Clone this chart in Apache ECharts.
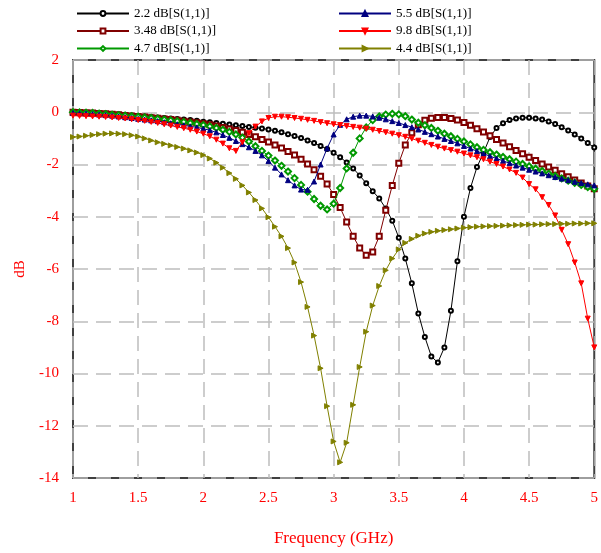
<!DOCTYPE html>
<html>
<head>
<meta charset="utf-8">
<script src="https://cdn.jsdelivr.net/npm/echarts@6/dist/echarts.min.js"></script>
<style>
html,body{margin:0;padding:0;background:#fff;}
#chart{width:601px;height:553px;}
</style>
</head>
<body>
<div id="chart"></div>
<script>
// Frequency (GHz) sample points
const freq = [1.00,1.05,1.10,1.15,1.20,1.25,1.30,1.35,1.40,1.45,1.50,1.55,1.60,1.65,1.70,1.75,1.80,1.85,1.90,1.95,
  2.00,2.05,2.10,2.15,2.20,2.25,2.30,2.35,2.40,2.45,2.50,2.55,2.60,2.65,2.70,2.75,2.80,2.85,2.90,2.95,
  3.00,3.05,3.10,3.15,3.20,3.25,3.30,3.35,3.40,3.45,3.50,3.55,3.60,3.65,3.70,3.75,3.80,3.85,3.90,3.95,
  4.00,4.05,4.10,4.15,4.20,4.25,4.30,4.35,4.40,4.45,4.50,4.55,4.60,4.65,4.70,4.75,4.80,4.85,4.90,4.95,5.00];

const s22 = [0.00,-0.01,-0.02,-0.03,-0.04,-0.05,-0.07,-0.08,-0.10,-0.12,-0.14,-0.16,-0.18,-0.20,-0.22,-0.24,-0.26,-0.28,-0.30,-0.33,
  -0.36,-0.38,-0.41,-0.44,-0.47,-0.50,-0.53,-0.56,-0.59,-0.62,-0.66,-0.71,-0.77,-0.84,-0.91,-0.99,-1.08,-1.18,-1.29,-1.41,
  -1.55,-1.72,-1.92,-2.15,-2.42,-2.72,-3.02,-3.30,-3.68,-4.15,-4.80,-5.60,-6.55,-7.70,-8.60,-9.35,-9.58,-9.00,-7.60,-5.70,
  -4.00,-2.90,-2.10,-1.55,-0.95,-0.60,-0.42,-0.30,-0.24,-0.21,-0.21,-0.24,-0.28,-0.35,-0.45,-0.57,-0.70,-0.85,-1.00,-1.18,-1.35];

const s348 = [0.00,-0.01,-0.02,-0.03,-0.05,-0.06,-0.08,-0.10,-0.12,-0.14,-0.16,-0.18,-0.21,-0.23,-0.26,-0.28,-0.31,-0.34,-0.37,-0.40,
  -0.44,-0.48,-0.53,-0.58,-0.64,-0.70,-0.77,-0.85,-0.94,-1.04,-1.14,-1.25,-1.37,-1.50,-1.64,-1.80,-1.98,-2.20,-2.45,-2.75,
  -3.15,-3.65,-4.20,-4.75,-5.20,-5.47,-5.35,-4.75,-3.75,-2.80,-1.95,-1.25,-0.78,-0.48,-0.31,-0.23,-0.20,-0.20,-0.24,-0.30,
  -0.39,-0.50,-0.63,-0.76,-0.90,-1.04,-1.18,-1.32,-1.46,-1.59,-1.72,-1.85,-1.98,-2.10,-2.22,-2.35,-2.47,-2.59,-2.71,-2.82,-2.93];

const s47 = [0.00,-0.01,-0.02,-0.03,-0.05,-0.07,-0.09,-0.11,-0.13,-0.15,-0.17,-0.20,-0.22,-0.25,-0.28,-0.31,-0.34,-0.37,-0.41,-0.45,
  -0.49,-0.54,-0.60,-0.67,-0.75,-0.85,-0.97,-1.12,-1.30,-1.48,-1.66,-1.85,-2.05,-2.27,-2.52,-2.78,-3.04,-3.32,-3.58,-3.72,
  -3.50,-2.90,-2.15,-1.55,-1.00,-0.58,-0.30,-0.16,-0.09,-0.06,-0.08,-0.15,-0.28,-0.40,-0.50,-0.60,-0.71,-0.82,-0.92,-1.02,
  -1.12,-1.23,-1.34,-1.44,-1.53,-1.62,-1.71,-1.80,-1.89,-1.98,-2.07,-2.16,-2.25,-2.35,-2.44,-2.53,-2.62,-2.70,-2.78,-2.86,-2.93];

const s55 = [-0.03,-0.04,-0.05,-0.07,-0.09,-0.11,-0.13,-0.16,-0.19,-0.22,-0.25,-0.28,-0.31,-0.34,-0.38,-0.42,-0.46,-0.50,-0.54,-0.58,
  -0.63,-0.69,-0.77,-0.87,-0.98,-1.10,-1.22,-1.34,-1.48,-1.65,-1.87,-2.12,-2.38,-2.60,-2.80,-2.96,-2.97,-2.65,-2.00,-1.38,
  -0.85,-0.48,-0.27,-0.17,-0.13,-0.13,-0.16,-0.21,-0.27,-0.34,-0.41,-0.49,-0.57,-0.66,-0.75,-0.84,-0.93,-1.02,-1.10,-1.19,
  -1.29,-1.39,-1.49,-1.59,-1.68,-1.77,-1.86,-1.95,-2.04,-2.12,-2.20,-2.27,-2.34,-2.41,-2.48,-2.54,-2.60,-2.66,-2.71,-2.76,-2.80];

const s98 = [-0.13,-0.14,-0.15,-0.16,-0.17,-0.18,-0.20,-0.22,-0.24,-0.27,-0.30,-0.33,-0.37,-0.41,-0.46,-0.51,-0.56,-0.61,-0.67,-0.74,
  -0.82,-0.92,-1.05,-1.20,-1.38,-1.48,-1.15,-0.80,-0.55,-0.35,-0.22,-0.17,-0.17,-0.19,-0.22,-0.25,-0.29,-0.33,-0.38,-0.42,
  -0.46,-0.49,-0.53,-0.56,-0.59,-0.63,-0.67,-0.72,-0.77,-0.82,-0.88,-0.94,-1.01,-1.09,-1.17,-1.25,-1.32,-1.39,-1.45,-1.51,
  -1.58,-1.65,-1.72,-1.80,-1.89,-1.98,-2.08,-2.19,-2.32,-2.50,-2.75,-2.95,-3.25,-3.55,-3.95,-4.50,-5.05,-5.75,-6.55,-7.90,-9.00];

const s44 = [-0.95,-0.93,-0.90,-0.87,-0.84,-0.82,-0.81,-0.82,-0.84,-0.88,-0.93,-1.00,-1.08,-1.15,-1.21,-1.27,-1.33,-1.39,-1.46,-1.54,
  -1.64,-1.77,-1.93,-2.12,-2.33,-2.55,-2.80,-3.07,-3.36,-3.68,-4.02,-4.38,-4.75,-5.20,-5.75,-6.50,-7.45,-8.55,-9.80,-11.25,
  -12.60,-13.40,-12.65,-11.20,-9.75,-8.40,-7.40,-6.65,-6.05,-5.60,-5.25,-5.00,-4.85,-4.73,-4.64,-4.58,-4.54,-4.51,-4.48,-4.45,
  -4.42,-4.40,-4.38,-4.37,-4.36,-4.35,-4.34,-4.33,-4.32,-4.31,-4.30,-4.30,-4.29,-4.28,-4.28,-4.27,-4.27,-4.26,-4.26,-4.25,-4.25];

const names = ['2.2 dB[S(1,1)]','3.48 dB[S(1,1)]','4.7 dB[S(1,1)]','5.5 dB[S(1,1)]','9.8 dB[S(1,1)]','4.4 dB[S(1,1)]'];
const values = [s22, s348, s47, s55, s98, s44];
const colors = ['#000000','#800000','#009900','#000080','#ff0000','#808000'];
const symbols = ['emptyCircle','emptyRect','emptyDiamond','triangle','triangle','triangle'];
const rotates = [0,0,0,0,180,-90];
const sizes = [4,5,6,5,5,5];

const FONT = '"Liberation Serif", "DejaVu Serif", serif';

const chart = echarts.init(document.getElementById('chart'), null, {renderer:'canvas'});

const series = names.map((n,i)=>({
  name:n, type:'line',
  data: freq.map((f,k)=>[f, values[i][k]]),
  symbol: symbols[i], symbolSize: sizes[i], symbolRotate: rotates[i],
  showAllSymbol: true,
  lineStyle:{color:colors[i], width:1},
  itemStyle:{color:colors[i], borderColor:colors[i], borderWidth:1},
  emphasis:{disabled:true},
  z: 2 + i
}));

const legendText = {color:'#000', fontFamily:FONT, fontSize:13, lineHeight:15};

chart.setOption({
  animation:false,
  backgroundColor:'#fff',
  legend:[
    {data:names.slice(0,3), orient:'vertical', left:71, top:1, itemWidth:52, itemHeight:6, itemGap:2.5,
     textStyle:legendText, selectedMode:false},
    {data:names.slice(3,6), orient:'vertical', left:333, top:1, itemWidth:52, itemHeight:6, itemGap:2.5,
     textStyle:legendText, selectedMode:false}
  ],
  grid:{left:73, right:4, top:60, bottom:75, show:true, borderColor:'#404040', borderWidth:2, backgroundColor:'transparent'},
  xAxis:{
    type:'value', min:1, max:5, interval:0.5,
    name:'Frequency (GHz)', nameLocation:'middle', nameGap:52,
    nameTextStyle:{color:'#ff0000', fontFamily:FONT, fontSize:17},
    axisLine:{show:false}, axisTick:{show:false},
    axisLabel:{color:'#ff0000', fontFamily:FONT, fontSize:15, margin:13},
    splitLine:{show:true, lineStyle:{color:'#bdbdbd', width:1.5, type:[15,8]}}
  },
  yAxis:{
    type:'value', min:-14, max:2, interval:2,
    name:'dB', nameLocation:'middle', nameGap:45, nameRotate:90,
    nameTextStyle:{color:'#ff0000', fontFamily:FONT, fontSize:15},
    axisLine:{show:false}, axisTick:{show:false},
    axisLabel:{color:'#ff0000', fontFamily:FONT, fontSize:15, margin:14},
    splitLine:{show:true, lineStyle:{color:'#bdbdbd', width:1.5, type:[15,8]}}
  },
  series: series
});
</script>
</body>
</html>
